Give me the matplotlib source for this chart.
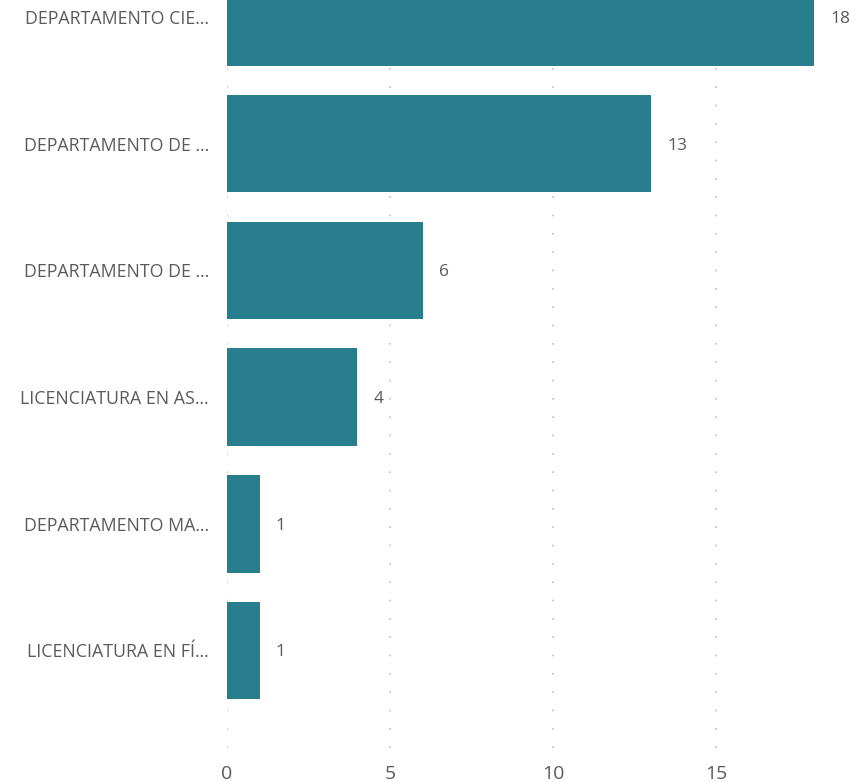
import matplotlib.pyplot as plt

categories = ["DEPARTAMENTO CIE…", "DEPARTAMENTO DE …", "DEPARTAMENTO DE …",
              "LICENCIATURA EN AS…", "DEPARTAMENTO MA…", "LICENCIATURA EN FÍ…"]
values = [18, 13, 6, 4, 1, 1]
xticks = [0, 5, 10, 15]

bar_color = "#297E8E"
text_color = "#5A5A5A"

plt.rcParams['font.family'] = ['Open Sans', 'DejaVu Sans']

fig = plt.figure(figsize=(8.56, 7.82), dpi=100)
ax = fig.add_axes([227 / 856, 1 - 748 / 782, (814 - 227) / 856, 748 / 782])

pos = list(range(len(categories)))
ax.barh(pos, values, height=0.77, color=bar_color, zorder=2)
ax.set_xlim(0, 18)
ax.set_ylim(5.77, -0.134)

for p, v in zip(pos, values):
    ax.text(v + 0.5, p, str(v), va="center_baseline", ha="left", fontsize=12.5,
            color=text_color, clip_on=False)

ax.set_yticks(pos)
ax.set_yticklabels(categories, fontsize=12.8, color=text_color, va="center_baseline")
ax.set_xticks(xticks)
ax.set_xticklabels([str(t) for t in xticks], fontsize=14, color=text_color)
ax.tick_params(axis="y", length=0, pad=13)
ax.tick_params(axis="x", length=0, pad=12)

ax.grid(axis="x", linestyle=(0, (1, 10)), color="#C0C0C0", linewidth=1.2, zorder=0)
for s in ax.spines.values():
    s.set_visible(False)

fig.savefig("out.png", dpi=100)
